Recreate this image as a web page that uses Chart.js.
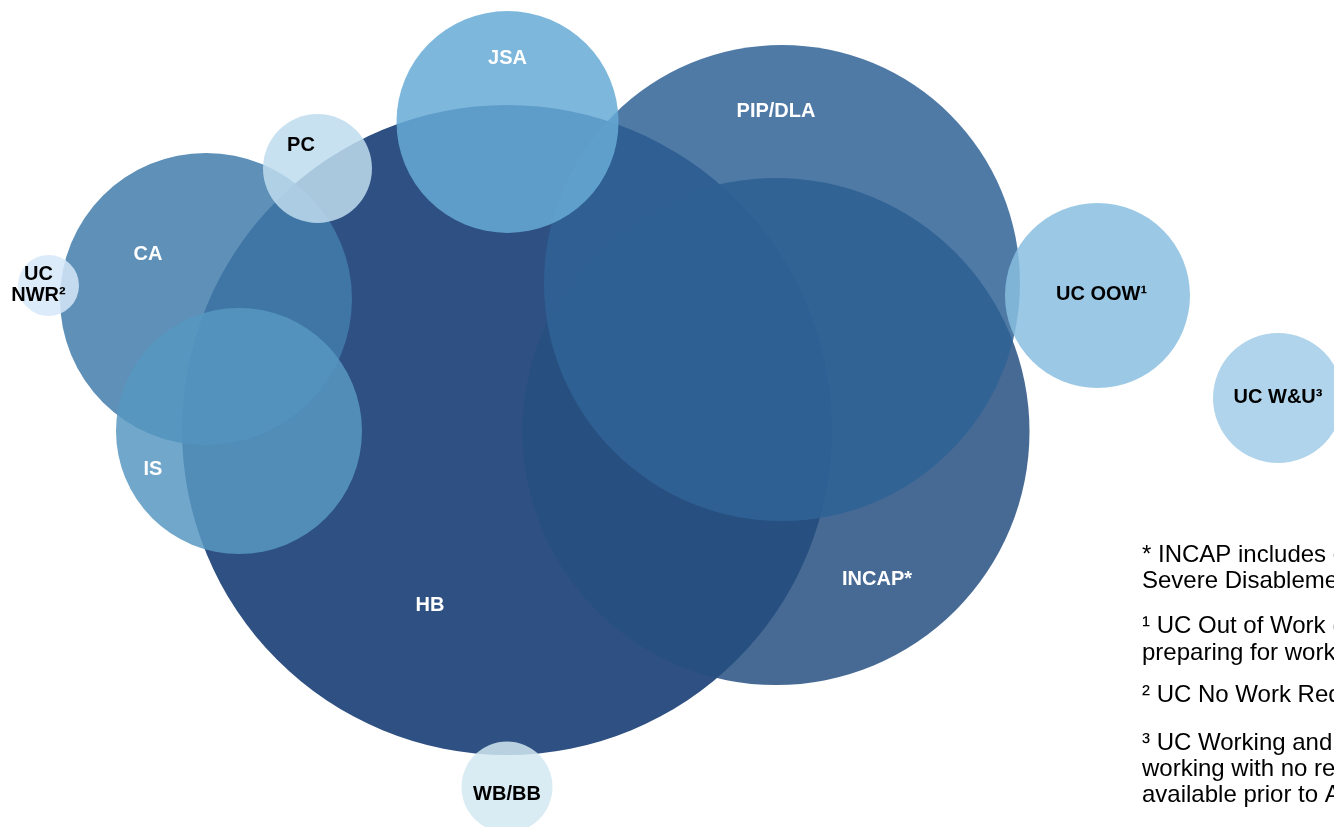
<!DOCTYPE html>
<html>
<head>
<meta charset="utf-8">
<script src="https://cdn.jsdelivr.net/npm/chart.js@4/dist/chart.umd.min.js"></script>
<style>
  html, body { margin: 0; padding: 0; background: #ffffff; overflow: hidden; }
  #wrap { position: relative; width: 1334px; height: 827px; }
  canvas { display: block; }
</style>
</head>
<body>
<div id="wrap"><canvas id="c" width="1334" height="827"></canvas></div>
<script>
// ---- Data ----
const categories = ['HB', 'INCAP*', 'PIP/DLA', 'CA', 'IS', 'PC', 'JSA', 'UC OOW\u00B9', 'UC W&U\u00B3', 'UC NWR\u00B2', 'WB/BB'];
const xValues    = [507, 776, 782, 206, 239, 317.5, 507.5, 1097.5, 1278, 48.5, 507];
const yValues    = [430, 431.5, 283, 299, 431, 168.5, 122, 295.5, 398, 285.5, 787];
const sizes      = [325, 253.5, 238, 146, 123, 54.5, 111, 92.5, 65, 30.5, 45.5];
const footnotes  = [
  '* INCAP includes claimants of ESA, IB and',
  'Severe Disablement Allowance',
  '\u00B9 UC Out of Work (OOW) includes searching and',
  'preparing for work conditionality groups',
  '\u00B2 UC No Work Requirements',
  '\u00B3 UC Working and Universal Credit',
  'working with no requirements, data',
  'available prior to April'
];

// ---- Styles ----
const fillColors = [
  'rgb(46,80,130)',
  'rgba(38,80,129,0.85)',
  'rgba(48,99,151,0.85)',
  'rgba(66,124,171,0.85)',
  'rgba(87,152,193,0.85)',
  'rgba(190,220,237,0.85)',
  'rgba(102,170,214,0.85)',
  'rgba(138,191,224,0.85)',
  'rgba(162,204,231,0.85)',
  'rgba(214,232,249,0.85)',
  'rgba(211,232,241,0.84)'
];
const labelColors = ['#fff','#fff','#fff','#fff','#fff','#000','#fff','#000','#000','#000','#000'];
const labelOffsets = [[-77,175],[101,147.5],[-6,-172],[-58,-45],[-86,38],[-16.5,-23.5],[0,-64],[4,-1],[0,-1],[-10,-1],[0,7]];

const points = xValues.map((x, i) => ({ x: x, y: yValues[i], r: sizes[i] }));

const bubbleLabels = {
  id: 'bubbleLabels',
  afterDatasetsDraw(chart) {
    const ctx = chart.ctx;
    const meta = chart.getDatasetMeta(0);
    ctx.save();
    ctx.font = 'bold 20px "Liberation Sans", Arial, sans-serif';
    ctx.textAlign = 'center';
    ctx.textBaseline = 'middle';
    meta.data.forEach((el, i) => {
      const off = labelOffsets[i];
      ctx.fillStyle = labelColors[i];
      const cx = el.x + off[0];
      const cy = el.y + off[1];
      if (categories[i] === 'UC NWR\u00B2') {
        ctx.fillText('UC', cx, cy - 10.5);
        ctx.fillText('NWR\u00B2', cx, cy + 10.5);
      } else {
        ctx.fillText(categories[i], cx, cy);
      }
    });
    ctx.restore();
  }
};

const footnotePlugin = {
  id: 'footnotePlugin',
  afterDraw(chart) {
    const ctx = chart.ctx;
    const baselines = [562, 588, 633, 660, 702, 750, 776, 802];
    ctx.save();
    ctx.font = '24px "Liberation Sans", Arial, sans-serif';
    ctx.fillStyle = '#000';
    ctx.textAlign = 'left';
    ctx.textBaseline = 'alphabetic';
    footnotes.forEach((t, i) => ctx.fillText(t, 1142, baselines[i]));
    ctx.restore();
  }
};

new Chart(document.getElementById('c'), {
  type: 'bubble',
  data: {
    datasets: [{
      label: 'Benefits',
      data: points,
      backgroundColor: fillColors,
      borderWidth: 0,
      hoverBorderWidth: 0,
      hoverRadius: 0
    }]
  },
  options: {
    responsive: false,
    animation: false,
    devicePixelRatio: 1,
    events: [],
    layout: { autoPadding: false, padding: 0 },
    plugins: { legend: { display: false }, tooltip: { enabled: false }, title: { display: false } },
    scales: {
      x: { type: 'linear', min: 0, max: 1334, display: false },
      y: { type: 'linear', min: 0, max: 827, reverse: true, display: false }
    }
  },
  plugins: [bubbleLabels, footnotePlugin]
});
</script>
</body>
</html>
